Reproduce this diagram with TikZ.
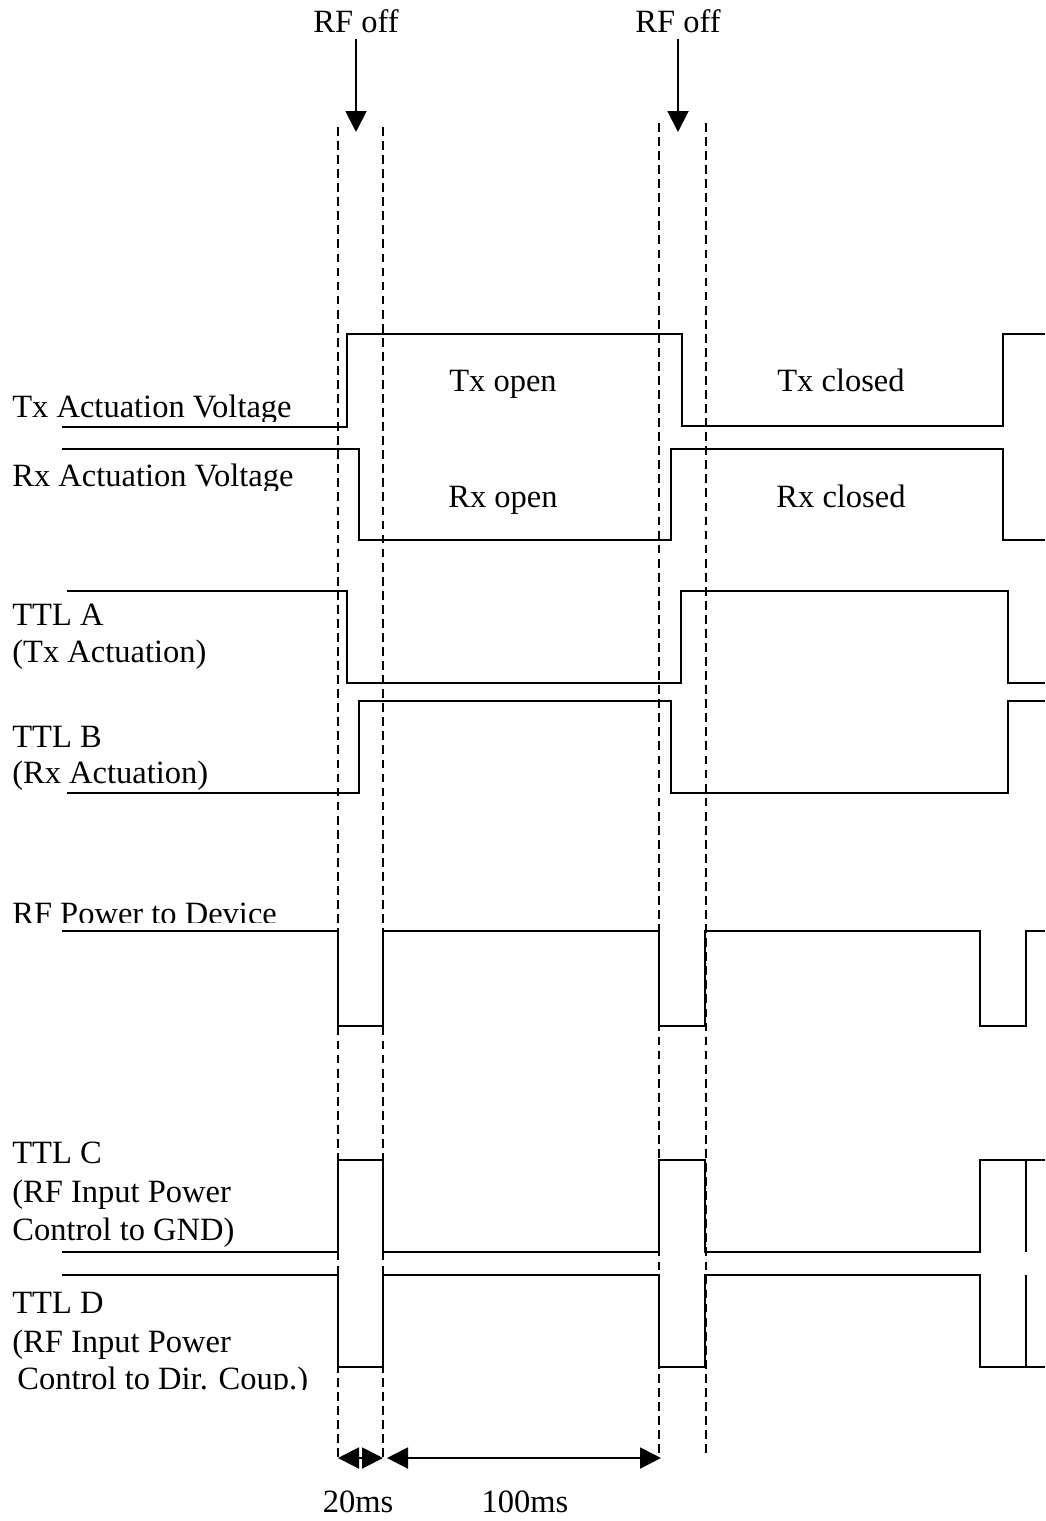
\documentclass[tikz,border=0pt]{standalone}
\usepackage{fontspec}
\setmainfont{Liberation Serif}
\usepackage{tikz}
\usetikzlibrary{arrows.meta}

\tikzset{
  sig/.style={line width=1.1pt, line join=miter},
  guide/.style={line width=0.8pt, dash pattern=on 5pt off 3pt},
  ptr/.style={line width=1.1pt, -{Triangle[length=0.42cm, width=0.42cm]}},
  dim/.style={line width=1.1pt, {Triangle[length=0.42cm, width=0.42cm]}-{Triangle[length=0.42cm, width=0.42cm]}},
  lbl/.style={anchor=base west, inner sep=0pt},
  mid/.style={anchor=base, inner sep=0pt}
}

\begin{document}
\begin{tikzpicture}[x=0.02cm, y=-0.02cm, font=\fontsize{18.5}{22}\selectfont]
  \useasboundingbox (0,0) rectangle (1045,1521);

  % RF off markers
  \node (rfoffA) at (356,21) {RF off};
  \node (rfoffB) at (678,21) {RF off};
  \coordinate (hitA) at (356,132);
  \coordinate (hitB) at (678,132);
  \draw[ptr] (rfoffA) -- (hitA);
  \draw[ptr] (rfoffB) -- (hitB);

  % dashed guides
  \foreach \x/\y in {338/127, 383/127, 659/123, 706/123}
    \draw[guide] (\x,\y) -- (\x,1458);

  % Tx / Rx actuation voltage
  \draw[sig] (62,427) -- (347,427) -- (347,334) -- (682,334) -- (682,426) -- (1003,426) -- (1003,334) -- (1045,334);
  \draw[sig] (62,449) -- (359,449) -- (359,540) -- (671,540) -- (671,449) -- (1003,449) -- (1003,540) -- (1045,540);
  \begin{scope}
    \clip (0,0) rectangle (330,421);
    \node[lbl] (txlbl) at (12,417) {Tx Actuation Voltage};
  \end{scope}
  \begin{scope}
    \clip (0,430) rectangle (330,490);
    \node[lbl] (rxlbl) at (12,486) {Rx Actuation Voltage};
  \end{scope}
  \node[mid] (txopen) at (503,391) {Tx open};
  \node[mid] (txclosed) at (841,391) {Tx closed};
  \node[mid] (rxopen) at (503,507) {Rx open};
  \node[mid] (rxclosed) at (841,507) {Rx closed};

  % TTL A / TTL B
  \draw[sig] (67,591) -- (347,591) -- (347,683) -- (681,683) -- (681,591) -- (1008,591) -- (1008,683) -- (1045,683);
  \draw[sig] (67,793) -- (359,793) -- (359,701) -- (671,701) -- (671,793) -- (1008,793) -- (1008,701) -- (1045,701);
  \node[lbl] (ttlA) at (12,625) {TTL A};
  \node[lbl] (ttlAsub) at (12,662) {(Tx Actuation)};
  \node[lbl] (ttlB) at (12,747) {TTL B};
  \node[lbl] (ttlBsub) at (12,783) {(Rx Actuation)};

  % RF power to device
  \draw[sig] (62,931) -- (338,931) -- (338,1026) -- (383,1026) -- (383,931) -- (659,931) -- (659,1026) -- (705,1026) -- (705,931) -- (980,931) -- (980,1026) -- (1026,1026) -- (1026,931) -- (1045,931);
  \begin{scope}
    \clip (0,880) rectangle (330,922);
    \node[lbl] (rflbl) at (12,924) {RF Power to Device};
  \end{scope}

  % TTL C / TTL D
  \draw[sig] (62,1252) -- (338,1252) -- (338,1160) -- (383,1160) -- (383,1252) -- (659,1252) -- (659,1160) -- (705,1160) -- (705,1252) -- (980,1252) -- (980,1160) -- (1045,1160);
  \draw[sig] (1026,1160) -- (1026,1252);
  \draw[sig] (62,1275) -- (338,1275) -- (338,1367) -- (383,1367) -- (383,1275) -- (659,1275) -- (659,1367) -- (705,1367) -- (705,1275) -- (980,1275) -- (980,1367) -- (1045,1367);
  \draw[sig] (1026,1275) -- (1026,1367);
  \node[lbl] (ttlC) at (12,1163) {TTL C};
  \node[lbl] (ttlCa) at (12,1202) {(RF Input Power};
  \node[lbl] (ttlCb) at (12,1240) {Control to GND)};
  \node[lbl] (ttlD) at (12,1313) {TTL D};
  \node[lbl] (ttlDa) at (12,1352) {(RF Input Power};
  \begin{scope}
    \clip (0,1360) rectangle (330,1389);
    \node[lbl] (ttlDb) at (17,1389) {Control to Dir. Coup.)};
  \end{scope}

  % timing
  \coordinate (offA1) at (338,1458);
  \coordinate (offA2) at (383,1458);
  \coordinate (onA1) at (387,1458);
  \coordinate (onA2) at (661,1458);
  \draw[dim] (offA1) -- (offA2);
  \draw[dim] (onA1) -- (onA2);
  \node[mid] (t20) at (358,1512) {20ms};
  \node[mid] (t100) at (525,1512) {100ms};
\end{tikzpicture}
\end{document}
